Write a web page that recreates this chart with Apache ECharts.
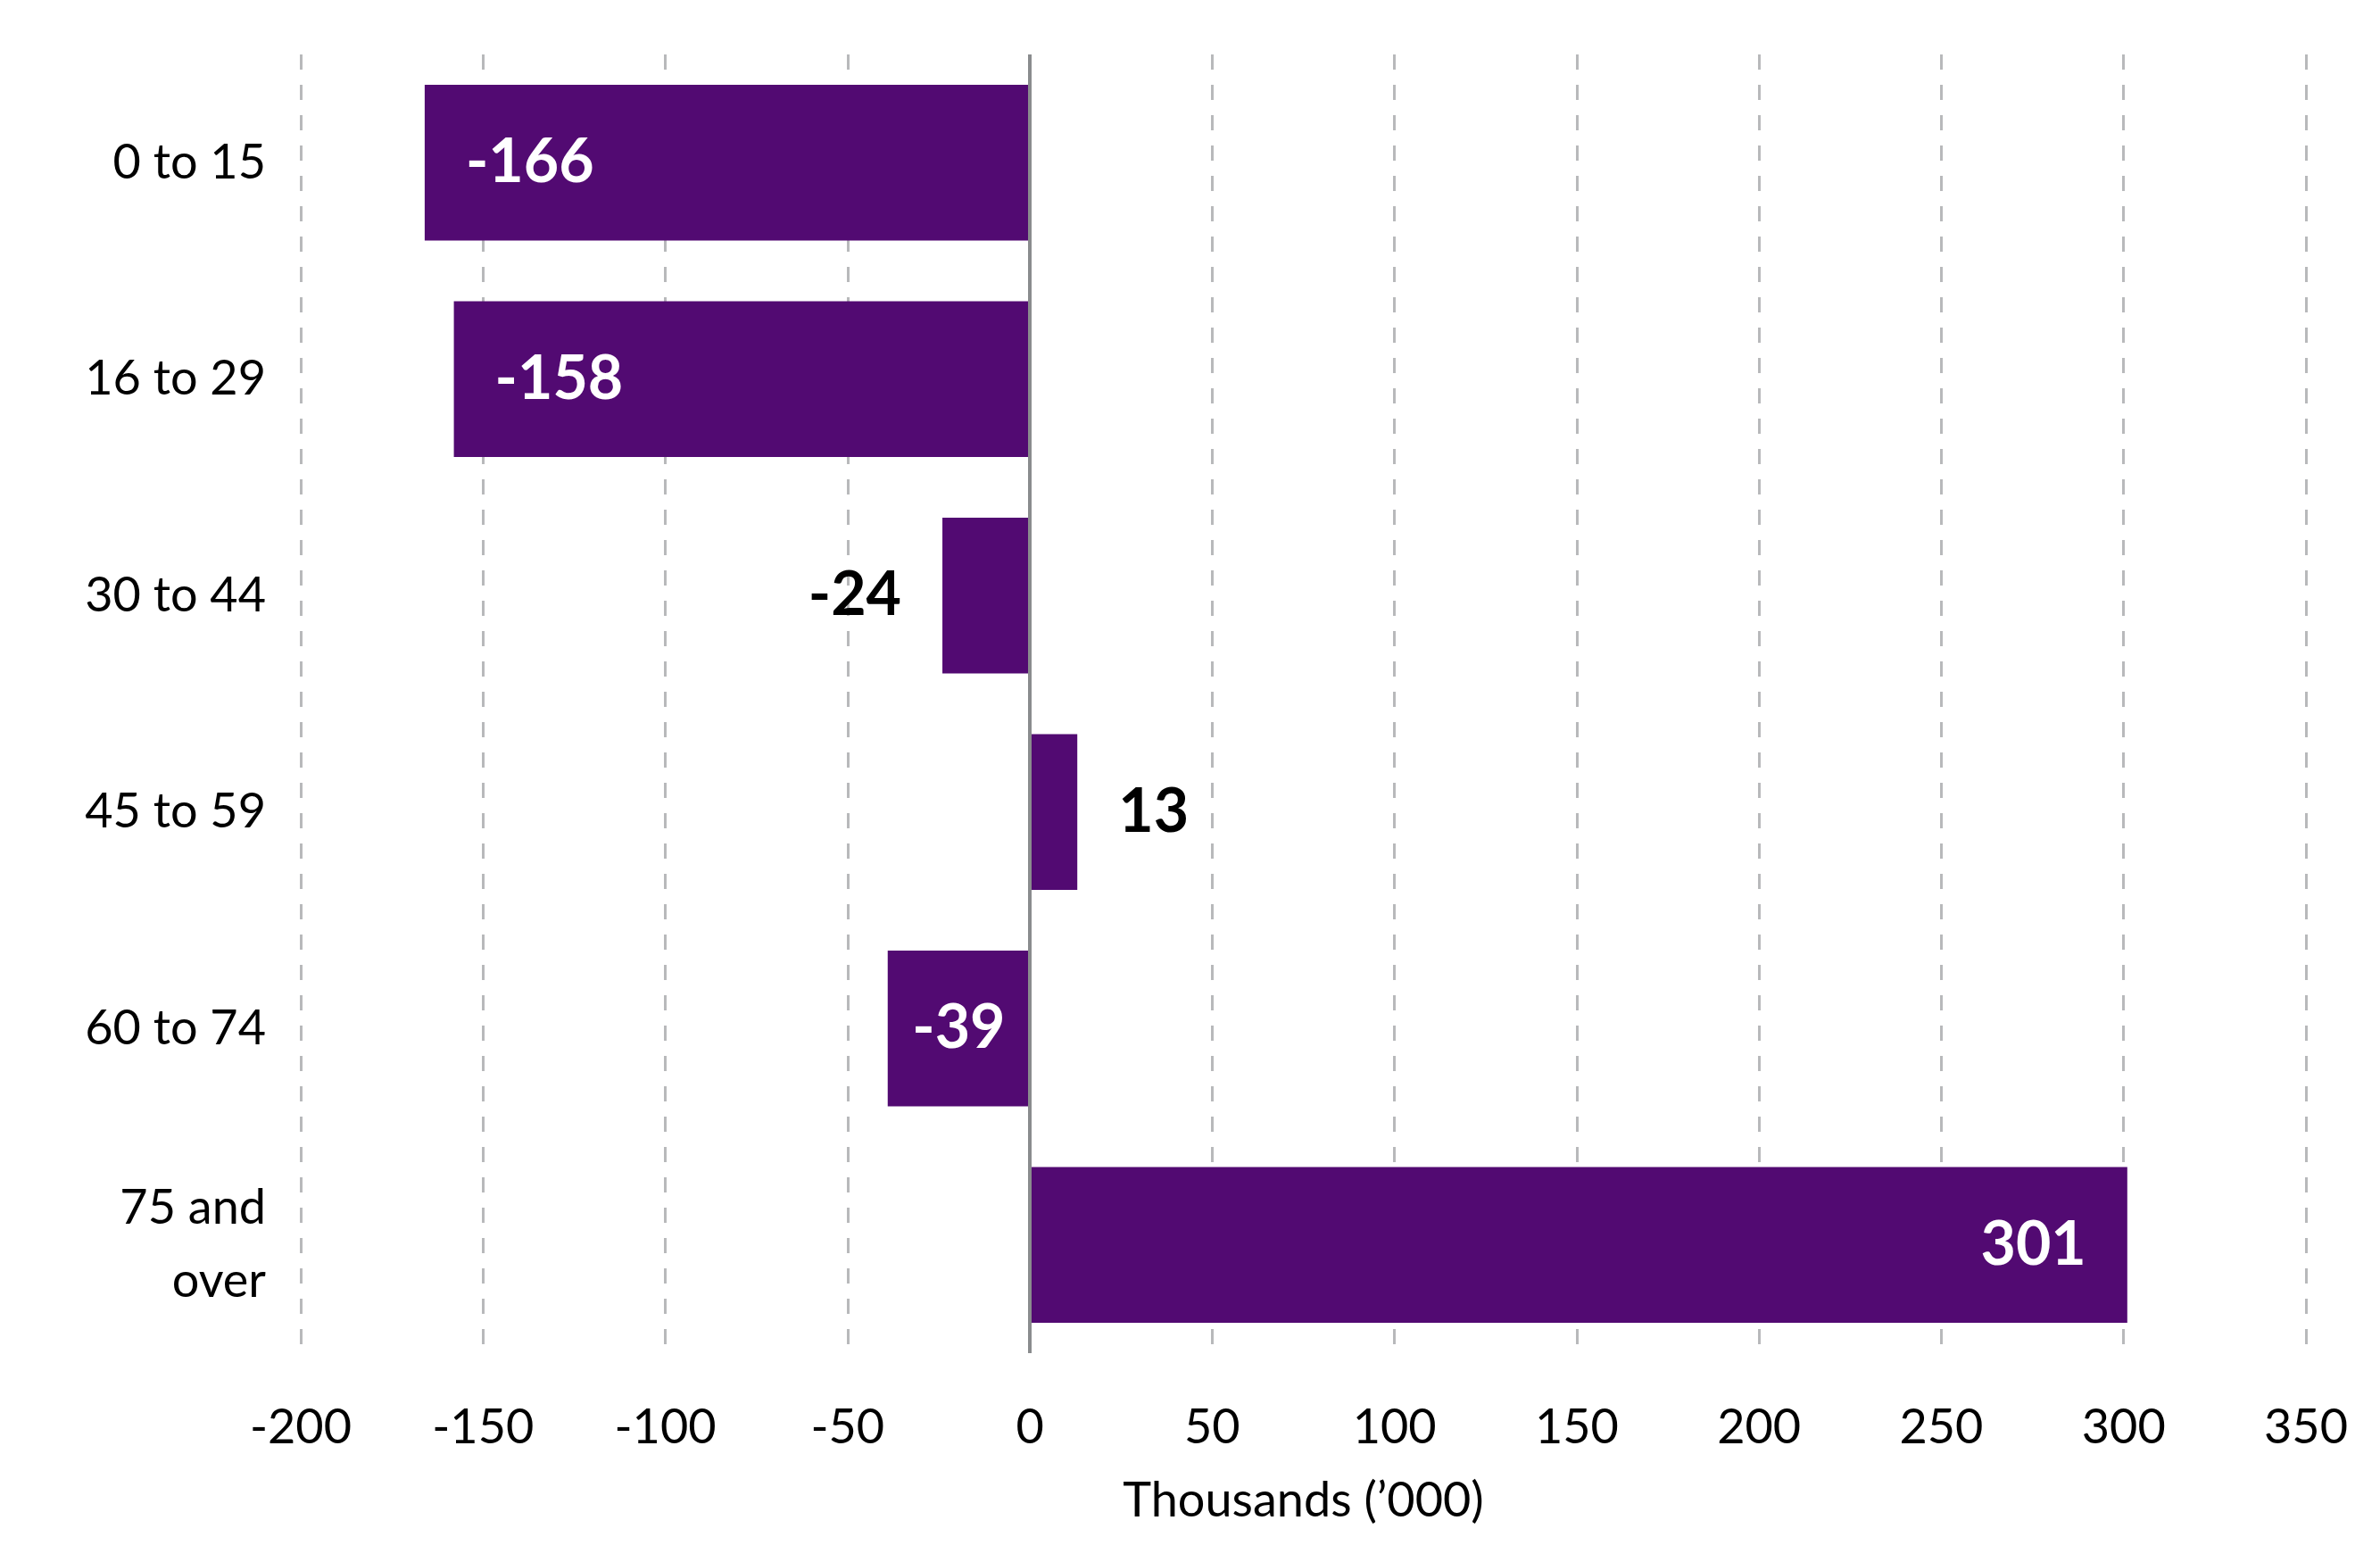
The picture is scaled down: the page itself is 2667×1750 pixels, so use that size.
<!DOCTYPE html>
<html>
<head>
<meta charset="UTF-8" />
<title>Population change by age group</title>
<script src="https://cdn.jsdelivr.net/npm/echarts@6/dist/echarts.min.js"></script>
<style>
  html, body { margin: 0; padding: 0; background: #fff; }
  #chart { width: 2667px; height: 1750px; }
</style>
</head>
<body>
<div id="chart"></div>
<script>
// data
var categories = ['0 to 15', '16 to 29', '30 to 44', '45 to 59', '60 to 74', '75 and\nover'];
var values = [-166, -158, -24, 13, -39, 301];
var xTicks = { min: -200, max: 350, step: 50 };
var axisTitle = 'Thousands (\u2019000)';

var purple = '#520a72';
var font = 'Lato, "Open Sans", sans-serif';

// small bars get their label outside, mid ones centred, long ones at the far end
function labelFor(v) {
  var a = Math.abs(v);
  if (a < 30) {
    return { position: v < 0 ? 'left' : 'right', color: '#000', distance: 46 };
  }
  if (a < 60) {
    return { position: 'inside', color: '#fff' };
  }
  return { position: v < 0 ? 'insideLeft' : 'insideRight', color: '#fff', distance: 46 };
}

var barData = values.map(function (v) {
  return { value: v, label: labelFor(v) };
});

var chart = echarts.init(document.getElementById('chart'));
chart.setOption({
  animation: false,
  textStyle: { fontFamily: font },
  grid: { left: 337, right: 83, top: 61, bottom: 234, containLabel: false },
  xAxis: {
    type: 'value',
    min: xTicks.min,
    max: xTicks.max,
    interval: xTicks.step,
    name: axisTitle,
    nameLocation: 'middle',
    nameGap: 139,
    nameTextStyle: { fontSize: 54, color: '#000', fontFamily: font },
    axisLine: { show: false },
    axisTick: { show: false },
    axisLabel: { fontSize: 54, color: '#000', margin: 57, fontFamily: font },
    splitLine: {
      show: true,
      lineStyle: { color: '#b8b9bb', width: 3, type: [17, 17] }
    }
  },
  yAxis: {
    type: 'category',
    inverse: true,
    data: categories,
    axisLine: { show: false },
    axisTick: { show: false },
    splitLine: { show: false },
    axisLabel: {
      fontSize: 54, color: '#000', margin: 39, lineHeight: 82,
      align: 'right', fontFamily: font
    }
  },
  series: [{
    type: 'bar',
    data: barData,
    barCategoryGap: '28%',
    itemStyle: { color: purple },
    label: {
      show: true,
      fontSize: 68,
      fontWeight: 'bold',
      fontFamily: font
    },
    markLine: {
      silent: true,
      symbol: ['none', 'none'],
      label: { show: false },
      lineStyle: { color: '#8a8c8e', width: 4, type: 'solid' },
      data: [{ xAxis: 0 }]
    }
  }]
});
</script>
</body>
</html>
